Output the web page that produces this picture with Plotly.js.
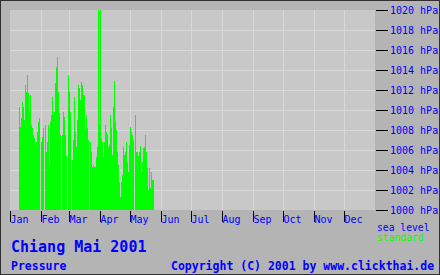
<!DOCTYPE html>
<html><head><meta charset="utf-8">
<script src="https://cdn.plot.ly/plotly-3.0.1.min.js"></script>
<style>
html,body{margin:0;padding:0;background:#b4b4b4;}
#chart{width:438px;height:273px;border:1px solid #303030;}
#chart .bars path{shape-rendering:crispEdges !important;}
</style>
</head><body><div id="chart"></div>
<script>
// ---- data ----
const months = ['Jan','Feb','Mar','Apr','May','Jun','Jul','Aug','Sep','Oct','Nov','Dec'];
const monthDays = [31,28,31,30,31,30,31,31,30,31,30,31];
const jan = [null,null,null,null,null,null,null,null,null,
  1010.3,1008.3,1009.2,1010.8,1010.3,1009.0,1012.5,1011.8,1013.5,1011.7,1009.8,
  1011.5,1008.5,1008.2,1007.5,1007.2,1006.4,1006.8,1007.8,1008.8,1009.2,null];
const feb = [1006.8,1007.3,1008.2,null,1008.5,1005.8,1006.8,1008.5,1004.5,1008.8,
  1009.5,1011.3,1009.5,1009.8,1012.7,1014.3,1015.3,1011.8,1009.7,1007.5,
  null,1007.5,1009.8,1009.3,1007.5,1005.4,null,1013.5];
const mar = [1011.8,1009.8,null,1005.0,1007.0,1011.3,1007.8,1006.3,1009.0,1012.5,
  1012.2,1011.0,1012.8,1012.5,1011.5,1011.5,1008.0,1009.5,1008.2,1007.0,
  null,1006.8,1005.8,1004.3,1004.5,1004.3,1004.3,1005.3,1006.3,1021.0,1008.5];
const apr = [1021.0,1007.2,1006.8,1005.3,1006.8,1008.5,1007.8,1007.5,1006.3,1006.5,
  1009.5,1008.2,1005.5,1010.3,1012.9,1008.8,1008.0,1005.8,1004.5,1002.8,
  1001.3,1002.8,1003.5,1006.3,1005.5,1005.8,1006.8,1004.8,1003.8,1006.5];
const may = [1008.3,1007.8,1007.5,1007.0,null,1009.5,1005.8,1005.8,1005.4,1005.8,
  1006.4,1003.8,1004.8,1006.2,1006.3,1007.5,1005.8,1004.2,1002.0,1004.2,
  1002.2,1003.8,1003.0,1003.0];
const yTicks = [1000,1002,1004,1006,1008,1010,1012,1014,1016,1018,1020];
const yUnit = ' hPa';
const titleText = 'Chiang Mai 2001';
const subtitleText = 'Pressure';
const copyrightText = 'Copyright (C) 2001 by www.clickthai.de';
const legendTop = 'sea level';
const legendBottom = 'standard';

// ---- build ----
const values = jan.concat(feb, mar, apr, may);
const days = values.map((_, i) => i);
const monthStarts = [];
let acc = 0;
monthDays.forEach(n => { monthStarts.push(acc - 0.5); acc += n; });

const BLUE = '#0000ff', GREEN = '#00ff00';
const MONO = 'DejaVu Sans Mono, monospace';

const trace = {
  type: 'bar', x: days, y: values, width: 1,
  marker: {color: GREEN, line: {width: 0}},
  hoverinfo: 'skip'
};

const ann = (text, x, y, xanchor, size, color, weight) => ({
  text, x, y, xref: 'paper', yref: 'paper', xanchor, yanchor: 'middle',
  showarrow: false, borderpad: 0,
  font: {family: MONO, size, color, weight}
});

const layout = {
  width: 438, height: 273,
  margin: {l: 9, r: 64, t: 9, b: 64},
  paper_bgcolor: '#b4b4b4', plot_bgcolor: '#c8c8c8',
  bargap: 0, showlegend: false,
  xaxis: {
    range: [-0.5, 364.5], tickmode: 'array', tickvals: monthStarts, ticktext: months,
    ticks: 'outside', ticklen: 11, tickwidth: 1, tickcolor: '#000',
    ticklabelposition: 'outside right',
    showgrid: true, gridcolor: '#d8d8d8', gridwidth: 1,
    zeroline: false, showline: false, fixedrange: true,
    tickfont: {family: MONO, size: 10, color: BLUE}
  },
  yaxis: {
    side: 'right', range: [1000, 1020], tickmode: 'array',
    tickvals: yTicks, ticktext: yTicks.map(v => v + yUnit),
    ticks: 'outside', ticklen: 12, tickwidth: 1, tickcolor: '#000',
    showgrid: true, gridcolor: '#d8d8d8', gridwidth: 1,
    zeroline: false, showline: false, fixedrange: true,
    tickfont: {family: MONO, size: 10, color: BLUE}
  },
  annotations: [
    ann(titleText, 0, -0.185, 'left', 15, BLUE, 700),
    ann(subtitleText, 0, -0.28, 'left', 11.5, BLUE, 700),
    ann(copyrightText, 1.164, -0.28, 'right', 11.5, BLUE, 700),
    ann(legendTop, 1.003, -0.085, 'left', 9.7, BLUE, 400),
    ann(legendBottom, 1.003, -0.135, 'left', 9.7, GREEN, 400)
  ]
};

Plotly.newPlot('chart', [trace], layout, {staticPlot: true, displayModeBar: false});
</script>
</body></html>
